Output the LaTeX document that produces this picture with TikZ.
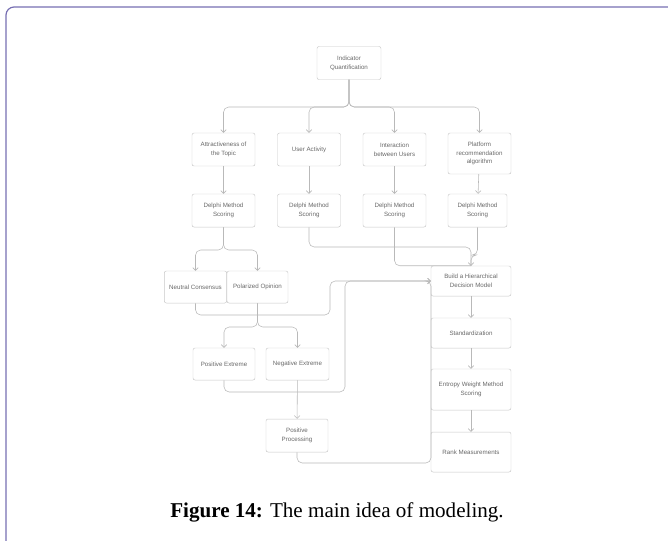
\documentclass[tikz,border=0pt]{standalone}
\usepackage{fontspec}
\setmainfont{Liberation Serif}
\newfontfamily\boxfont{Liberation Sans}
\usetikzlibrary{arrows.meta}
\definecolor{framecol}{RGB}{118,110,178}
\definecolor{boxcol}{RGB}{200,200,200}
\definecolor{linecol}{RGB}{185,185,185}
\definecolor{textcol}{RGB}{105,105,105}

\begin{document}
\begin{tikzpicture}
    [
    x=0.25mm, y=-0.25mm,
    box/.style={draw=boxcol,line width=0.35pt,rounded corners=0.5mm,fill=white,text=textcol,font=\boxfont\fontsize{4.4}{6.2}\selectfont,align=center,inner sep=0pt,minimum width=15.75mm,minimum height=8.25mm},
    link/.style={draw=linecol,line width=0.4pt,rounded corners=1.3mm,-{Straight Barb[length=0.7mm,width=1.4mm]}},
    line/.style={draw=linecol,line width=0.4pt,rounded corners=1.3mm}
    ]
    \useasboundingbox (0,0) rectangle (668,541);
    \draw [framecol, line width=0.3mm, rounded corners=2mm] (6,560) -- (6,7) -- (690,7);
    % nodes
    \node (iq) at (349,63) [box,minimum width=16mm] {Indicator\\Quantification};
    \node (a1) at (223.5,149.5) [box] {Attractiveness of\\the Topic};
    \node (a2) at (309,149.5) [box] {User Activity};
    \node (a3) at (394.5,149.5) [box] {Interaction\\between Users};
    \node (a4) at (479.5,153.5) [box,minimum height=10.25mm] {Platform\\recommendation\\algorithm};
    \node (d1) at (223.5,210.5) [box] {Delphi Method\\Scoring};
    \node (d2) at (309,210.5) [box] {Delphi Method\\Scoring};
    \node (d3) at (394.5,210.5) [box] {Delphi Method\\Scoring};
    \node (d4) at (477.5,210.5) [box,minimum width=14.75mm] {Delphi Method\\Scoring};
    \node (nc) at (195.5,287) [box,minimum width=15.6mm,minimum height=8mm] {Neutral Consensus};
    \node (po) at (257.5,287) [box,minimum width=15.25mm,minimum height=8mm] {Polarized Opinion};
    \node (pe) at (224,364) [box,minimum width=15.5mm,minimum height=8mm] {Positive Extreme};
    \node (ne) at (297.5,364) [box,minimum height=8mm] {Negative Extreme};
    \node (pp) at (297,435.5) [box,minimum width=15.5mm] {Positive\\Processing};
    \node (bh) at (471,281) [box,minimum width=20mm,minimum height=7.5mm] {Build a Hierarchical\\Decision Model};
    \node (st) at (471,333) [box,minimum width=20mm,minimum height=7.5mm] {Standardization};
    \node (ew) at (471,389.5) [box,minimum width=20mm,minimum height=10.25mm] {Entropy Weight Method\\Scoring};
    \node (rm) at (471,452) [box,minimum width=20mm,minimum height=10mm] {Rank Measurements};
    \node (cap) at (337,512) [font=\fontsize{15}{17}\selectfont] {\textbf{Figure 14:} The main idea of modeling.};
    % split points
    \coordinate (s0) at (349,107);
    \coordinate (s1) at (223.5,250);
    \coordinate (s2) at (257.5,327);
    \coordinate (m1) at (330,315);
    \coordinate (m2) at (345,392);
    \coordinate (m3) at (431,463);
    \coordinate (m4) at (471,247);
    \coordinate (m5) at (477.5,255);
    % connectors
    \draw [link] (iq.south) -- (s0) -| (a1.north);
    \draw [link] (iq.south) -- (s0) -| (a2.north);
    \draw [link] (iq.south) -- (s0) -| (a3.north);
    \draw [link] (iq.south) -- (s0) -| (a4.north);
    \draw [link] (a1) -- (d1);
    \draw [link] (a2) -- (d2);
    \draw [link] (a3) -- (d3);
    \draw [link] (a4) -- (d4);
    \draw [link] (d1.south) -- (s1) -| (nc.north);
    \draw [link] (d1.south) -- (s1) -| (po.north);
    \draw [link] (po.south) -- (s2) -| (pe.north);
    \draw [link] (po.south) -- (s2) -| (ne.north);
    \draw [link] (nc.south) |- (m1) |- (bh.west);
    \draw [link] (pe.south) |- (m2) |- (bh.west);
    \draw [link] (ne) -- (pp);
    \draw [line] (pp.south) |- (m3) |- (bh.west);
    \draw [link] (d2.south) |- (m4) -- (bh.north);
    \draw [line] (d3.south) |- (bh.north);
    \draw [line] (d4.south) -- (m5) -| (bh.north);
    \draw [link] (bh) -- (st);
    \draw [link] (st) -- (ew);
    \draw [link] (ew) -- (rm);
  \end{tikzpicture}
\end{document}
